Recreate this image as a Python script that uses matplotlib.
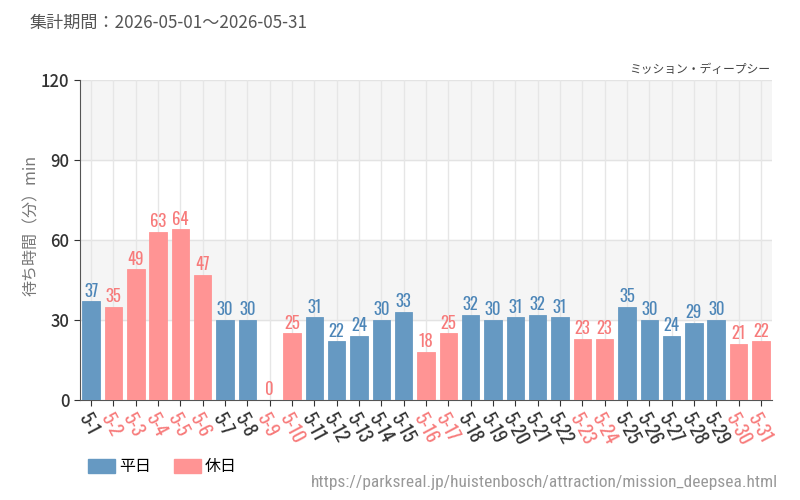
import numpy as np
import matplotlib
matplotlib.use("Agg")
import matplotlib.pyplot as plt
from matplotlib.patches import Patch

plt.rcParams['font.family'] = ['Noto Sans CJK JP', 'DejaVu Sans']

# data
days = ['5-%d' % d for d in range(1, 32)]
waits = [37, 35, 49, 63, 64, 47, 30, 30, 0, 25, 31, 22, 24, 30, 33, 18, 25,
         32, 30, 31, 32, 31, 23, 23, 35, 30, 24, 29, 30, 21, 22]
holiday = [0, 1, 1, 1, 1, 1, 0, 0, 1, 1, 0, 0, 0, 0, 0, 1, 1,
           0, 0, 0, 0, 0, 1, 1, 0, 0, 0, 0, 0, 1, 1]

blue = '#6699c2'
pink = '#ff9494'
blue_txt = '#4d86b8'
pink_txt = '#f77b7b'
narrow = ['Oswald', 'Archivo Narrow', 'DejaVu Sans']
url_font = ['Roboto Condensed', 'Archivo Narrow', 'DejaVu Sans']

fig = plt.figure(figsize=(8, 5), dpi=100)
ax = fig.add_axes([0.1, 0.2, 0.865, 0.64])

x = np.arange(len(days))
colors = [pink if h else blue for h in holiday]
ax.bar(x, waits, width=0.78, color=colors, edgecolor=colors, linewidth=0.6, zorder=3)
for xi, v, h in zip(x, waits, holiday):
    ax.text(xi, v + 0.6, str(v), ha='center', va='bottom', fontsize=12,
            family=narrow, color=pink_txt if h else blue_txt, zorder=4)

ax.set_xlim(-0.5, len(days) - 0.5)
ax.set_ylim(0, 120)
ax.set_yticks([0, 30, 60, 90, 120])
ax.tick_params(axis='y', labelsize=12, colors='#333333', length=4)
for lab in ax.get_yticklabels():
    lab.set_fontweight('medium')
ax.axhspan(30, 60, color='#f5f5f5', zorder=0)
ax.axhspan(90, 120, color='#f5f5f5', zorder=0)
for yv in [30, 60, 90, 120]:
    ax.axhline(yv, color='#e3e3e3', lw=1, zorder=1)
for xi in x:
    ax.axvline(xi, color='#e6e6e6', lw=1, zorder=1)

ax.set_xticks(x)
ax.set_xticklabels(days, rotation=-62, ha='left', va='top', rotation_mode='anchor',
                   fontsize=13.5, family=narrow)
ax.tick_params(axis='x', length=4, colors='#333333')
for lab, h in zip(ax.get_xticklabels(), holiday):
    lab.set_color(pink_txt if h else '#333333')

for s in ['top', 'right']:
    ax.spines[s].set_visible(False)
ax.spines['left'].set_color('#555555')
ax.spines['bottom'].set_color('#555555')

ax.set_ylabel('待ち時間（分）min', fontsize=11.5, color='#777777')
ax.yaxis.set_label_coords(-0.058, 0.547)

fig.text(0.0375, 0.955, '集計期間：2026-05-01～2026-05-31', fontsize=12.3, color='#555555', va='center')
fig.text(0.963, 0.86, 'ミッション・ディープシー', fontsize=8.5, color='#444444', ha='right', va='center')

handles = [Patch(color=blue, label='平日'), Patch(color=pink, label='休日')]
fig.legend(handles=handles, loc='center left', bbox_to_anchor=(0.108, 0.066), ncol=2,
           frameon=False, fontsize=11.5, handlelength=1.7, handleheight=0.9,
           handletextpad=0.25, columnspacing=1.4, borderpad=0.1, borderaxespad=0)

fig.text(0.972, 0.035, 'https://parksreal.jp/huistenbosch/attraction/mission_deepsea.html',
         fontsize=12.5, color='#999999', ha='right', va='center', family=url_font)

fig.savefig('out.png', dpi=100)
